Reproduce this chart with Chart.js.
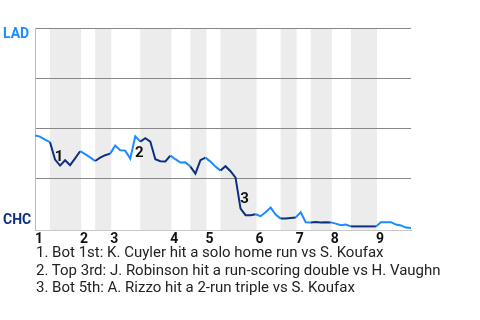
<!DOCTYPE html>
<html>
<head>
<meta charset="utf-8">
<script src="https://cdn.jsdelivr.net/npm/chart.js@4"></script>
<style>
  body { margin: 0; background: #fff; font-family: Roboto, sans-serif; }
  #wrap { position: relative; width: 480px; height: 320px; }
  #notes { position: absolute; left: 36px; top: 244px; font-size: 15px; line-height: 17.5px; color: #222; }
</style>
</head>
<body>
<div id="wrap">
  <canvas id="grafico" width="480" height="250"></canvas>
  <div id="notes"></div>
</div>
<script>
// probabilidade de vitória LAD (%) por rebatida
const winProb = [
  46.2, 45.7, 44.2, 42.9, 34.2, 31.2, 33.9, 31.4, 34.8, 38.4,
  36.9, 35.3, 33.5, 35.2, 36.4, 37.2, 41.2, 38.9, 38.7, 34.7,
  45.9, 43.2, 44.9, 43.2, 34.4, 33.4, 33.3, 36.2, 34.4, 32.7,
  32.9, 30.7, 27.2, 33.9, 35.2, 33.2, 30.7, 28.7, 30.9, 28.4,
  25.2, 9.7, 6.4, 6.4, 6.9, 5.9, 7.9, 10.2, 6.7, 4.7,
  4.7, 5.0, 5.3, 7.9, 2.9, 2.8, 3.0, 2.7, 2.9, 2.8,
  2.2, 1.4, 1.7, 0.8, 0.8, 0.8, 0.8, 0.8, 0.8, 2.9,
  2.9, 2.9, 1.7, 1.3, 0.2, 0
];
const inningStarts = [0, 9, 15, 27, 34, 44, 52, 59, 68];
const inningLabels = ["1", "2", "3", "4", "5", "6", "7", "8", "9"];
const bottomStarts = [3, 12, 21, 31, 37, 49, 55, 63];
const bottomEnds = [9, 15, 27, 34, 44, 52, 59, 68];
const eventIdx = [4, 20, 41];
const eventLabels = ["1", "2", "3"];
const eventNotes = [
  "Bot 1st: K. Cuyler hit a solo home run vs S. Koufax",
  "Top 3rd: J. Robinson hit a run-scoring double vs H. Vaughn",
  "Bot 5th: A. Rizzo hit a 2-run triple vs S. Koufax"
];

const LAD = "#1a8cff";
const CHC = "#0e2f80";

function ehBaixa(i) {
  return bottomStarts.some((s, k) => i >= s && i < bottomEnds[k]);
}

document.getElementById("notes").innerHTML = eventNotes
  .map((t, k) => `<div>${eventLabels[k]}. ${t}</div>`)
  .join("");

// faixas cinza das partes baixas + rótulos
const extras = {
  id: "extras",
  beforeDraw(chart) {
    const { ctx, chartArea: a, scales: { x } } = chart;
    ctx.save();
    ctx.fillStyle = "#ececec";
    bottomStarts.forEach((s, k) => {
      const x0 = x.getPixelForValue(s);
      const x1 = x.getPixelForValue(bottomEnds[k]);
      ctx.fillRect(x0, a.top, x1 - x0 + 1, a.bottom - a.top);
    });
    ctx.restore();
  },
  afterDraw(chart) {
    const { ctx, chartArea: a, scales: { x, y } } = chart;
    ctx.save();
    ctx.font = "bold 14px Roboto, sans-serif";
    ctx.textBaseline = "middle";
    ctx.textAlign = "left";
    ctx.fillStyle = LAD;
    ctx.fillText("LAD", 3, a.top + 6);
    ctx.fillStyle = CHC;
    ctx.fillText("CHC", 3, a.bottom - 10);

    ctx.font = "bold 15px Roboto, sans-serif";
    ctx.textAlign = "center";
    ctx.fillStyle = "#111";
    eventIdx.forEach((i, k) => {
      const mx = (x.getPixelForValue(i - 1) + x.getPixelForValue(i)) / 2;
      const my = (y.getPixelForValue(winProb[i - 1]) + y.getPixelForValue(winProb[i])) / 2;
      ctx.fillText(eventLabels[k], mx + 6.5, my + 6);
    });
    ctx.restore();
  }
};

const ctx = document.getElementById("grafico").getContext("2d");
new Chart(ctx, {
  type: "line",
  data: {
    labels: winProb.map((_, i) => i),
    datasets: [
      {
        data: winProb.map((v, i) => ({ x: i, y: v })),
        borderColor: LAD,
        borderWidth: 2,
        pointRadius: 0,
        tension: 0,
        segment: {
          borderColor: (c) => (ehBaixa(c.p0DataIndex) ? CHC : LAD),
        },
      },
    ],
  },
  options: {
    responsive: false,
    animation: false,
    layout: { padding: { top: 28, right: 69, left: 0, bottom: 0 } },
    plugins: {
      legend: { display: false },
      tooltip: { enabled: false },
    },
    scales: {
      x: {
        type: "linear",
        min: 0,
        max: winProb.length - 1,
        grid: { display: false, drawTicks: false },
        border: { color: "#c8c8c8", width: 1 },
        afterBuildTicks: (s) => {
          s.ticks = inningStarts.map((v) => ({ value: v }));
        },
        afterFit: (s) => { s.height = 20; },
        ticks: {
          align: "start",
          autoSkip: false,
          maxRotation: 0,
          padding: 1,
          color: "#111",
          font: { family: "Roboto", size: 14, weight: "bold" },
          callback: (v) => inningLabels[inningStarts.indexOf(v)],
        },
      },
      y: {
        min: -1,
        max: 100,
        afterBuildTicks: (s) => {
          s.ticks = [25, 50, 75, 100].map((v) => ({ value: v }));
        },
        afterFit: (s) => { s.width = 35; },
        grid: { color: "#888", lineWidth: 1, drawTicks: false },
        border: { color: "#bbb", width: 1 },
        ticks: { display: false },
      },
    },
  },
  plugins: [extras],
});
</script>
</body>
</html>
